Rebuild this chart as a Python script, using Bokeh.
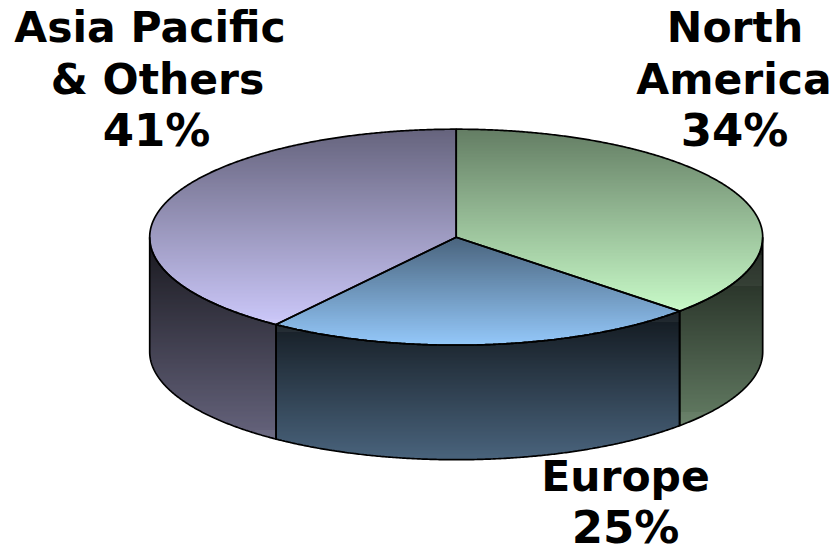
import numpy as np
from bokeh.plotting import figure
from bokeh.models import Range1d
from bokeh.core.properties import value
from bokeh.embed import file_html
from bokeh.resources import INLINE

# Data
regions = ["North America", "Europe", "Asia Pacific & Others"]
label_pct = [34, 25, 41]
drawn_share = [37, 23, 40]          # sweep of each slice
base_colors = [(200, 250, 200), (148, 200, 250), (204, 200, 250)]
name_lines = [["North", "America"], ["Europe"], ["Asia Pacific", "& Others"]]

# Layout (page pixels)
W, H = 834, 546
CX, CY, RX, RY, DEPTH = 455.7, 236.7, 306.5, 108, 114.5
name_x = [[734.5, 733.5], [625], [149.5, 157]]
name_y = [[27, 79], [476], [27, 79]]
pct_x = [734, 625, 156]
pct_y = [130, 527, 130]

p = figure(width=W, height=H, x_range=Range1d(0, W), y_range=Range1d(H, 0),
           output_backend="svg", toolbar_location=None, min_border=0)
p.axis.visible = False
p.grid.visible = False
p.outline_line_color = None
p.background_fill_color = "white"


def arc(a0, a1, dy=0.0):
    t = np.radians(np.linspace(a0, a1, max(3, int(abs(a1 - a0) * 3))))
    return CX + RX * np.sin(t), CY - RY * np.cos(t) + dy


def hexmix(c, f):
    return "#%02x%02x%02x" % tuple(int(round(v * f)) for v in c)


def strips(xs, ys, c, f0, f1):
    """Horizontal scan of a polygon, shaded from f0*c at its top to f1*c at its bottom."""
    xs = np.append(xs, xs[0])
    ys = np.append(ys, ys[0])
    ymin, ymax = ys.min(), ys.max()
    L, R, T, B, C = [], [], [], [], []
    for y in np.arange(np.floor(ymin), np.ceil(ymax)):
        yc = y + 0.5
        cross = []
        for i in range(len(xs) - 1):
            y0, y1 = ys[i], ys[i + 1]
            if (y0 <= yc < y1) or (y1 <= yc < y0):
                cross.append(xs[i] + (yc - y0) / (y1 - y0) * (xs[i + 1] - xs[i]))
        cross.sort()
        frac = (yc - ymin) / max(ymax - ymin, 1)
        col = hexmix(c, f0 + (f1 - f0) * frac)
        for a, b in zip(cross[0::2], cross[1::2]):
            L.append(a); R.append(b); T.append(y); B.append(y + 1.4); C.append(col)
    p.quad(left=L, right=R, top=T, bottom=B, fill_color=C, line_color=None)


angles = np.cumsum([0] + drawn_share) * 3.6
outlines_x, outlines_y = [], []

# walls
for i, c in enumerate(base_colors):
    a0, a1 = max(angles[i], 90), min(angles[i + 1], 270)
    if a1 <= a0:
        continue
    tx, ty = arc(a0, a1)
    bx, by = arc(a1, a0, DEPTH)
    xs, ys = np.concatenate([tx, bx]), np.concatenate([ty, by])
    strips(xs, ys, c, 0.12, 0.5)
    outlines_x.append(xs.tolist() + [xs[0]])
    outlines_y.append(ys.tolist() + [ys[0]])

# tops
for i, c in enumerate(base_colors):
    tx, ty = arc(angles[i], angles[i + 1])
    xs = np.concatenate([[CX], tx])
    ys = np.concatenate([[CY], ty])
    strips(xs, ys, c, 0.5, 1.0)
    outlines_x.append(xs.tolist() + [xs[0]])
    outlines_y.append(ys.tolist() + [ys[0]])

p.multi_line(outlines_x, outlines_y, line_color="#000000", line_width=1.7)

# labels
for lines, xs_, ys_, pct, px, py in zip(name_lines, name_x, name_y, label_pct, pct_x, pct_y):
    p.text(x=xs_, y=ys_, text=lines, text_align="center", text_baseline="middle",
           text_font=value("DejaVu Sans"), text_font_style="bold", text_font_size="42.5px",
           text_color="#000000")
    p.text(x=[px], y=[py], text=[f"{pct}%"], text_align="center", text_baseline="middle",
           text_font=value("DejaVu Sans"), text_font_style="bold", text_font_size="45px",
           text_color="#000000")

open("out.html", "w").write(file_html(p, INLINE))
